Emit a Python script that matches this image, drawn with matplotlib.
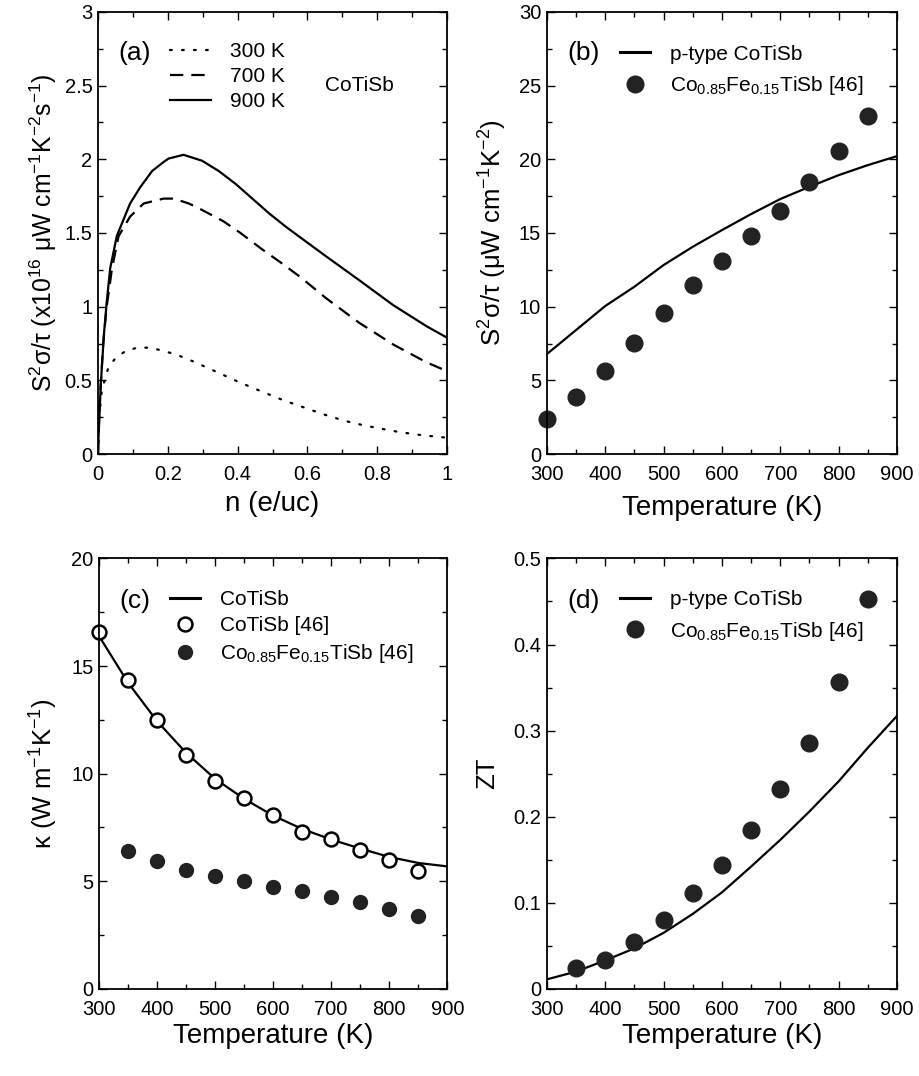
import matplotlib
matplotlib.use("Agg")
import matplotlib.pyplot as plt
from matplotlib.ticker import MultipleLocator
from matplotlib.lines import Line2D

plt.rcParams["font.family"] = ["Liberation Sans", "DejaVu Sans"]
plt.rcParams["mathtext.default"] = "regular"

# (a) power factor vs carrier concentration
n_300 = [0.0, 0.004, 0.011, 0.030, 0.052, 0.080, 0.113, 0.147, 0.181, 0.214,
         0.245, 0.279, 0.341, 0.403, 0.466, 0.529, 0.596, 0.663, 0.730,
         0.797, 0.864, 0.931, 1.0]
pf_300 = [0.0, 0.26, 0.433, 0.589, 0.656, 0.70, 0.722, 0.722, 0.704, 0.682,
          0.656, 0.622, 0.556, 0.489, 0.427, 0.367, 0.311, 0.256, 0.211,
          0.178, 0.149, 0.127, 0.111]
n_700 = [0.0, 0.005, 0.015, 0.025, 0.040, 0.059, 0.092, 0.131, 0.188, 0.217,
         0.26, 0.298, 0.36, 0.408, 0.47, 0.523, 0.58, 0.654, 0.749, 0.845,
         0.941, 1.0]
pf_700 = [0.0, 0.35, 0.75, 1.0, 1.256, 1.478, 1.611, 1.70, 1.733, 1.733,
          1.70, 1.656, 1.578, 1.50, 1.389, 1.30, 1.20, 1.056, 0.889, 0.744,
          0.622, 0.562]
n_900 = [0.0, 0.002, 0.008, 0.017, 0.025, 0.035, 0.054, 0.092, 0.121, 0.155,
         0.19, 0.2025, 0.245, 0.298, 0.346, 0.394, 0.442, 0.49, 0.537, 0.585,
         0.654, 0.749, 0.845, 0.941, 1.0]
pf_900 = [0.0, 0.14, 0.47, 0.81, 1.03, 1.26, 1.48, 1.70, 1.81, 1.92,
          1.985, 2.005, 2.03, 1.99, 1.92, 1.833, 1.733, 1.633, 1.544, 1.46,
          1.34, 1.178, 1.011, 0.867, 0.789]

# temperatures
T_line = [300, 350, 400, 450, 500, 550, 600, 650, 700, 750, 800, 850, 900]
T_exp = [300, 350, 400, 450, 500, 550, 600, 650, 700, 750, 800, 850]
T_fe = [350, 400, 450, 500, 550, 600, 650, 700, 750, 800, 850]

# (b) power factor vs T
pf_calc = [6.78, 8.41, 10.04, 11.35, 12.82, 14.06, 15.19, 16.28, 17.30,
           18.13, 18.92, 19.6, 20.21]
pf_fe = [2.35, 3.84, 5.63, 7.55, 9.54, 11.46, 13.09, 14.81, 16.48,
         18.47, 20.57, 22.9]

# (c) thermal conductivity
kappa_calc = [16.4, 14.23, 12.44, 10.97, 9.76, 8.83, 8.05, 7.43, 6.94,
              6.52, 6.13, 5.85, 5.69]
kappa_exp = [16.56, 14.35, 12.49, 10.86, 9.65, 8.88, 8.07, 7.28, 6.97,
             6.44, 6.00, 5.46]
kappa_fe = [6.39, 5.93, 5.54, 5.26, 5.00, 4.72, 4.53, 4.27, 4.02, 3.71, 3.40]

# (d) ZT
zt_calc = [0.011, 0.020, 0.033, 0.047, 0.065, 0.087, 0.112, 0.142, 0.173,
           0.206, 0.241, 0.280, 0.317]
zt_fe = [0.024, 0.034, 0.054, 0.080, 0.111, 0.144, 0.184, 0.232, 0.286,
         0.357, 0.453]

fe_label = "Co$_{0.85}$Fe$_{0.15}$TiSb [46]"
K = "k"
DOT = "#222222"
LW = 1.6
TICK_FS = 14.5
LEG_FS = 15
XLAB_FS = 20
YLAB_FS = 18.5
TAG_FS = 19

fig = plt.figure(figsize=(9.19, 10.76), dpi=100)
ax_a = fig.add_axes([0.1066, 0.578, 0.380, 0.411])
ax_b = fig.add_axes([0.595, 0.578, 0.381, 0.411])
ax_c = fig.add_axes([0.1077, 0.081, 0.379, 0.400])
ax_d = fig.add_axes([0.595, 0.081, 0.381, 0.400])


def style(ax, xmaj, xmin, ymaj, ymin):
    ax.xaxis.set_major_locator(MultipleLocator(xmaj))
    ax.xaxis.set_minor_locator(MultipleLocator(xmin))
    ax.yaxis.set_major_locator(MultipleLocator(ymaj))
    ax.yaxis.set_minor_locator(MultipleLocator(ymin))
    ax.tick_params(which="both", direction="in", top=True, right=True,
                   labelsize=TICK_FS, width=1.0)
    ax.tick_params(axis="x", pad=8)
    ax.tick_params(axis="y", pad=4)
    ax.tick_params(which="major", length=6)
    ax.tick_params(which="minor", length=3.5)
    for s in ax.spines.values():
        s.set_linewidth(1.3)


# (a)
ax_a.plot(n_300, pf_300, color=K, lw=LW, ls=(0, (0.8, 4.6)),
          dash_capstyle="round", label="300 K")
ax_a.plot(n_700, pf_700, color=K, lw=LW, ls=(0, (6, 3.6)), label="700 K")
ax_a.plot(n_900, pf_900, color=K, lw=LW, label="900 K")
ax_a.set_xlim(0, 1)
ax_a.set_ylim(0, 3)
style(ax_a, 0.2, 0.1, 0.5, 0.25)
ax_a.set_xticks([0, 0.2, 0.4, 0.6, 0.8, 1])
ax_a.set_xticklabels(["0", "0.2", "0.4", "0.6", "0.8", "1"])
ax_a.set_yticks([0, 0.5, 1, 1.5, 2, 2.5, 3])
ax_a.set_yticklabels(["0", "0.5", "1", "1.5", "2", "2.5", "3"])
ax_a.set_xlabel("n (e/uc)", fontsize=XLAB_FS, labelpad=5)
ax_a.set_ylabel("S$^2$σ/τ (x10$^{16}$ μW cm$^{-1}$K$^{-2}$s$^{-1}$)",
                fontsize=17.8, labelpad=4)
ax_a.text(0.058, 0.907, "(a)", transform=ax_a.transAxes, fontsize=TAG_FS,
          va="center")
ax_a.text(0.65, 0.833, "CoTiSb", transform=ax_a.transAxes, fontsize=LEG_FS,
          va="center")
ax_a.legend(loc="upper left", bbox_to_anchor=(0.206, 0.932), frameon=False,
            fontsize=LEG_FS, handlelength=1.95, handletextpad=0.95,
            labelspacing=0.3, borderpad=0, borderaxespad=0)

# (b)
ax_b.plot(T_line, pf_calc, color=K, lw=LW)
ax_b.plot(T_exp, pf_fe, "o", color=DOT, ms=12, clip_on=False)
ax_b.set_xlim(300, 900)
ax_b.set_ylim(0, 30)
style(ax_b, 100, 50, 5, 2.5)
ax_b.set_xlabel("Temperature (K)", fontsize=XLAB_FS, labelpad=8)
ax_b.set_ylabel("S$^2$σ/τ (μW cm$^{-1}$K$^{-2}$)", fontsize=YLAB_FS,
                labelpad=7)
ax_b.text(0.058, 0.907, "(b)", transform=ax_b.transAxes, fontsize=TAG_FS,
          va="center")
hb = [Line2D([], [], color=K, lw=2.2),
      Line2D([], [], ls="", marker="o", color=DOT, ms=12)]
ax_b.legend(hb, ["p-type CoTiSb", fe_label], loc="upper left",
            bbox_to_anchor=(0.209, 0.926), frameon=False, fontsize=LEG_FS,
            handlelength=1.45, handletextpad=0.95, labelspacing=0.5,
            borderpad=0, borderaxespad=0)

# (c)
ax_c.plot(T_line, kappa_calc, color=K, lw=LW)
ax_c.plot(T_exp, kappa_exp, "o", mfc="white", mec=K, mew=1.8, ms=10,
          clip_on=False)
ax_c.plot(T_fe, kappa_fe, "o", color=DOT, ms=10)
ax_c.set_xlim(300, 900)
ax_c.set_ylim(0, 20)
style(ax_c, 100, 50, 5, 2.5)
ax_c.set_xlabel("Temperature (K)", fontsize=XLAB_FS, labelpad=3)
ax_c.set_ylabel("κ (W m$^{-1}$K$^{-1}$)", fontsize=YLAB_FS, labelpad=8)
ax_c.text(0.058, 0.9, "(c)", transform=ax_c.transAxes, fontsize=TAG_FS,
          va="center")
hc = [Line2D([], [], color=K, lw=2.2),
      Line2D([], [], ls="", marker="o", mfc="white", mec=K, mew=1.8, ms=10),
      Line2D([], [], ls="", marker="o", color=DOT, ms=10)]
ax_c.legend(hc, ["CoTiSb", "CoTiSb [46]", fe_label], loc="upper left",
            bbox_to_anchor=(0.204, 0.926), frameon=False, fontsize=LEG_FS,
            handlelength=1.45, handletextpad=0.95, labelspacing=0.33,
            borderpad=0, borderaxespad=0)

# (d)
ax_d.plot(T_line, zt_calc, color=K, lw=LW)
ax_d.plot(T_fe, zt_fe, "o", color=DOT, ms=12)
ax_d.set_xlim(300, 900)
ax_d.set_ylim(0, 0.5)
style(ax_d, 100, 50, 0.1, 0.05)
ax_d.set_yticks([0, 0.1, 0.2, 0.3, 0.4, 0.5])
ax_d.set_yticklabels(["0", "0.1", "0.2", "0.3", "0.4", "0.5"])
ax_d.set_xlabel("Temperature (K)", fontsize=XLAB_FS, labelpad=3)
ax_d.set_ylabel("ZT", fontsize=YLAB_FS, labelpad=10)
ax_d.text(0.058, 0.9, "(d)", transform=ax_d.transAxes, fontsize=TAG_FS,
          va="center")
hd = [Line2D([], [], color=K, lw=2.2),
      Line2D([], [], ls="", marker="o", color=DOT, ms=12)]
ax_d.legend(hd, ["p-type CoTiSb", fe_label], loc="upper left",
            bbox_to_anchor=(0.209, 0.926), frameon=False, fontsize=LEG_FS,
            handlelength=1.45, handletextpad=0.95, labelspacing=0.5,
            borderpad=0, borderaxespad=0)

fig.savefig("out.png", dpi=100)
